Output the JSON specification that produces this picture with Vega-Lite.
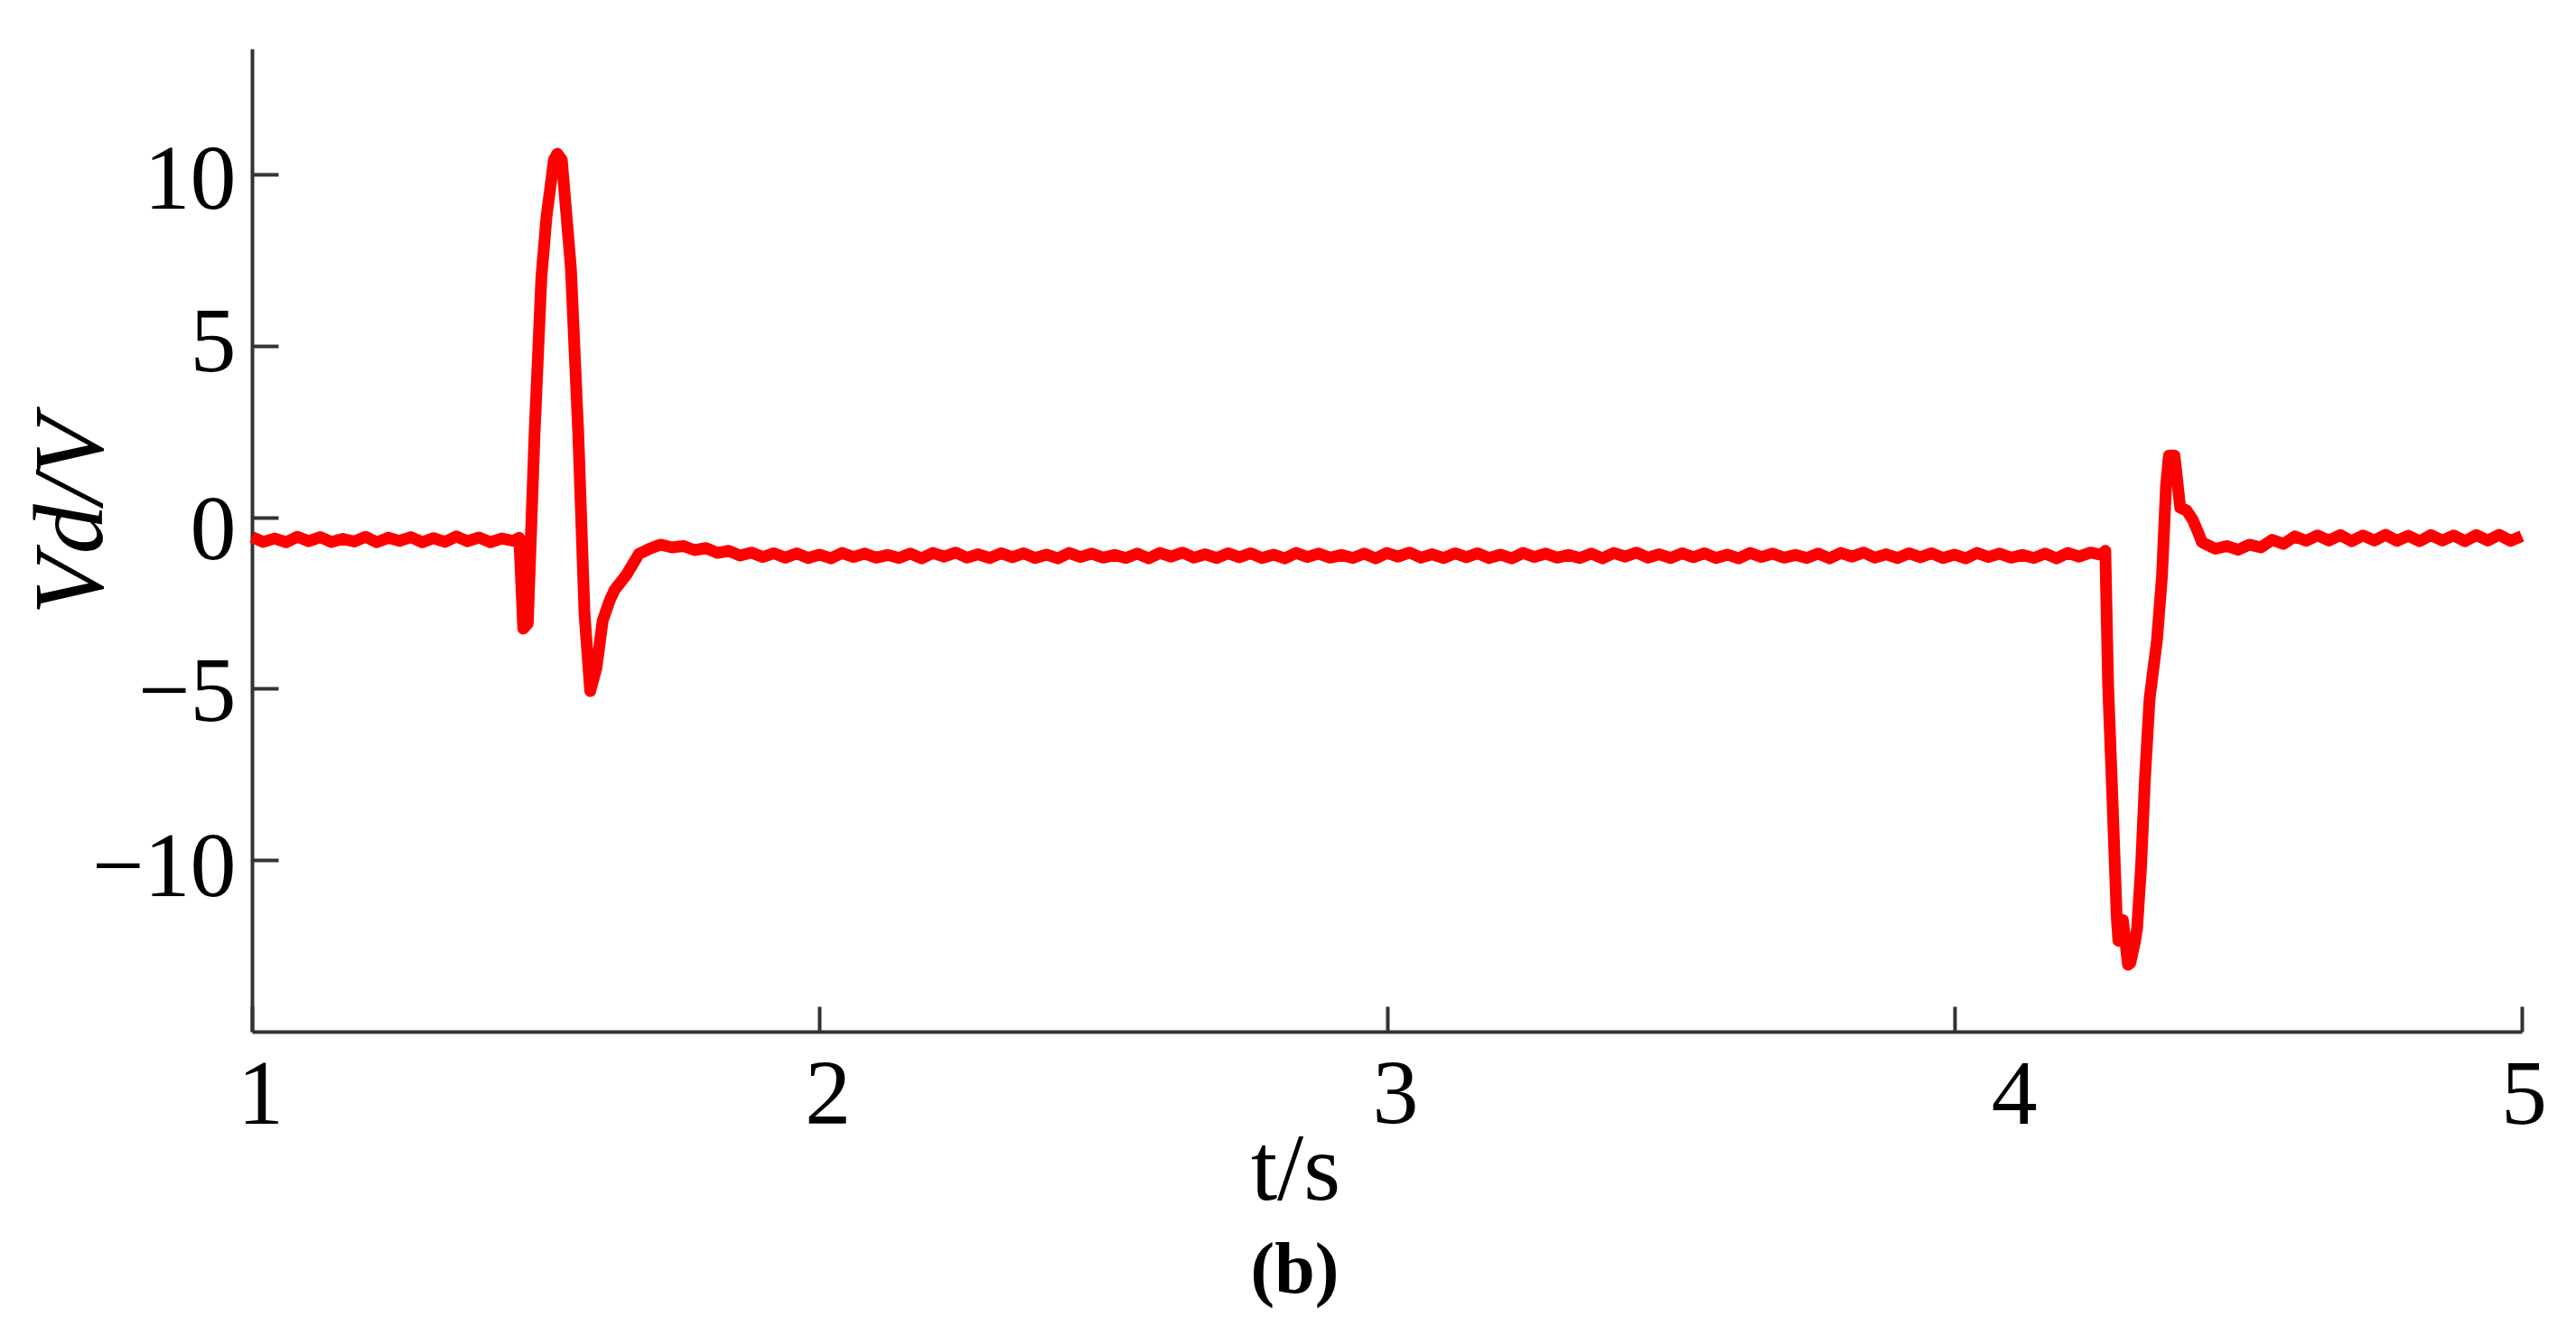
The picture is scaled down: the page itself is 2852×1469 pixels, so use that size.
{
  "$schema": "https://vega.github.io/schema/vega-lite/v6.json",
  "width": 2513,
  "height": 1088,
  "autosize": {"type": "none"},
  "padding": {"left": 279, "top": 54, "right": 60, "bottom": 327},
  "background": "white",
  "config": {
    "view": {"stroke": null},
    "axis": {
      "labelFont": "Liberation Serif",
      "labelFontSize": 102,
      "labelColor": "#000000",
      "titleFont": "Liberation Serif",
      "titleColor": "#000000",
      "titleFontWeight": "normal",
      "domainColor": "#333333",
      "domainWidth": 4,
      "tickColor": "#333333",
      "tickWidth": 4,
      "grid": false
    },
    "title": {"font": "Liberation Serif", "color": "#000000"}
  },
  "title": {
    "text": "(b)",
    "orient": "bottom",
    "anchor": "middle",
    "fontSize": 80,
    "fontWeight": "bold",
    "dx": -102,
    "offset": 20
  },
  "data": {
    "values": [
      {"t": 1.00, "v": -0.58}, {"t": 1.02, "v": -0.72}, {"t": 1.04, "v": -0.62}, {"t": 1.06, "v": -0.73},
      {"t": 1.08, "v": -0.57}, {"t": 1.10, "v": -0.70}, {"t": 1.12, "v": -0.58}, {"t": 1.14, "v": -0.72},
      {"t": 1.16, "v": -0.63}, {"t": 1.18, "v": -0.71}, {"t": 1.20, "v": -0.57}, {"t": 1.22, "v": -0.73},
      {"t": 1.24, "v": -0.60}, {"t": 1.26, "v": -0.69}, {"t": 1.28, "v": -0.58}, {"t": 1.30, "v": -0.73},
      {"t": 1.32, "v": -0.61}, {"t": 1.34, "v": -0.72}, {"t": 1.36, "v": -0.56}, {"t": 1.38, "v": -0.70},
      {"t": 1.40, "v": -0.59}, {"t": 1.42, "v": -0.73}, {"t": 1.44, "v": -0.62}, {"t": 1.46, "v": -0.69},
      {"t": 1.471, "v": -0.60},
      {"t": 1.478, "v": -3.25}, {"t": 1.486, "v": -3.10},
      {"t": 1.498, "v": 2.44}, {"t": 1.510, "v": 7.0}, {"t": 1.519, "v": 8.76}, {"t": 1.532, "v": 10.42},
      {"t": 1.538, "v": 10.6}, {"t": 1.546, "v": 10.42}, {"t": 1.562, "v": 7.26}, {"t": 1.575, "v": 2.44},
      {"t": 1.586, "v": -2.83}, {"t": 1.596, "v": -5.07},
      {"t": 1.607, "v": -4.4}, {"t": 1.618, "v": -3.02}, {"t": 1.631, "v": -2.4}, {"t": 1.639, "v": -2.12},
      {"t": 1.659, "v": -1.70}, {"t": 1.670, "v": -1.40}, {"t": 1.682, "v": -1.07}, {"t": 1.702, "v": -0.91},
      {"t": 1.72, "v": -0.80}, {"t": 1.74, "v": -0.88}, {"t": 1.76, "v": -0.84}, {"t": 1.78, "v": -0.96},
      {"t": 1.80, "v": -0.90}, {"t": 1.82, "v": -1.04}, {"t": 1.84, "v": -0.98}, {"t": 1.86, "v": -1.12},
      {"t": 1.88, "v": -1.03}, {"t": 1.90, "v": -1.16}, {"t": 1.92, "v": -1.05}, {"t": 1.94, "v": -1.18},
      {"t": 1.96, "v": -1.05}, {"t": 1.98, "v": -1.19}, {"t": 2.00, "v": -1.09}, {"t": 2.02, "v": -1.20},
      {"t": 2.04, "v": -1.04}, {"t": 2.06, "v": -1.16}, {"t": 2.08, "v": -1.06}, {"t": 2.10, "v": -1.18},
      {"t": 2.12, "v": -1.10}, {"t": 2.14, "v": -1.19}, {"t": 2.16, "v": -1.06}, {"t": 2.18, "v": -1.20},
      {"t": 2.20, "v": -1.04}, {"t": 2.22, "v": -1.15}, {"t": 2.24, "v": -1.03}, {"t": 2.26, "v": -1.18},
      {"t": 2.28, "v": -1.08}, {"t": 2.30, "v": -1.19}, {"t": 2.32, "v": -1.05}, {"t": 2.34, "v": -1.17},
      {"t": 2.36, "v": -1.05}, {"t": 2.38, "v": -1.19}, {"t": 2.40, "v": -1.09}, {"t": 2.42, "v": -1.20},
      {"t": 2.44, "v": -1.04}, {"t": 2.46, "v": -1.16}, {"t": 2.48, "v": -1.06}, {"t": 2.50, "v": -1.18},
      {"t": 2.52, "v": -1.10}, {"t": 2.54, "v": -1.19}, {"t": 2.56, "v": -1.06}, {"t": 2.58, "v": -1.20},
      {"t": 2.60, "v": -1.04}, {"t": 2.62, "v": -1.15}, {"t": 2.64, "v": -1.03}, {"t": 2.66, "v": -1.18},
      {"t": 2.68, "v": -1.08}, {"t": 2.70, "v": -1.19}, {"t": 2.72, "v": -1.05}, {"t": 2.74, "v": -1.17},
      {"t": 2.76, "v": -1.05}, {"t": 2.78, "v": -1.19}, {"t": 2.80, "v": -1.09}, {"t": 2.82, "v": -1.20},
      {"t": 2.84, "v": -1.04}, {"t": 2.86, "v": -1.16}, {"t": 2.88, "v": -1.06}, {"t": 2.90, "v": -1.18},
      {"t": 2.92, "v": -1.10}, {"t": 2.94, "v": -1.19}, {"t": 2.96, "v": -1.06}, {"t": 2.98, "v": -1.20},
      {"t": 3.00, "v": -1.04}, {"t": 3.02, "v": -1.15}, {"t": 3.04, "v": -1.03}, {"t": 3.06, "v": -1.18},
      {"t": 3.08, "v": -1.08}, {"t": 3.10, "v": -1.19}, {"t": 3.12, "v": -1.05}, {"t": 3.14, "v": -1.17},
      {"t": 3.16, "v": -1.05}, {"t": 3.18, "v": -1.19}, {"t": 3.20, "v": -1.09}, {"t": 3.22, "v": -1.20},
      {"t": 3.24, "v": -1.04}, {"t": 3.26, "v": -1.16}, {"t": 3.28, "v": -1.06}, {"t": 3.30, "v": -1.18},
      {"t": 3.32, "v": -1.10}, {"t": 3.34, "v": -1.19}, {"t": 3.36, "v": -1.06}, {"t": 3.38, "v": -1.20},
      {"t": 3.40, "v": -1.04}, {"t": 3.42, "v": -1.15}, {"t": 3.44, "v": -1.03}, {"t": 3.46, "v": -1.18},
      {"t": 3.48, "v": -1.08}, {"t": 3.50, "v": -1.19}, {"t": 3.52, "v": -1.05}, {"t": 3.54, "v": -1.17},
      {"t": 3.56, "v": -1.05}, {"t": 3.58, "v": -1.19}, {"t": 3.60, "v": -1.09}, {"t": 3.62, "v": -1.20},
      {"t": 3.64, "v": -1.04}, {"t": 3.66, "v": -1.16}, {"t": 3.68, "v": -1.06}, {"t": 3.70, "v": -1.18},
      {"t": 3.72, "v": -1.10}, {"t": 3.74, "v": -1.19}, {"t": 3.76, "v": -1.06}, {"t": 3.78, "v": -1.20},
      {"t": 3.80, "v": -1.04}, {"t": 3.82, "v": -1.15}, {"t": 3.84, "v": -1.03}, {"t": 3.86, "v": -1.18},
      {"t": 3.88, "v": -1.08}, {"t": 3.90, "v": -1.19}, {"t": 3.92, "v": -1.05}, {"t": 3.94, "v": -1.17},
      {"t": 3.96, "v": -1.05}, {"t": 3.98, "v": -1.19}, {"t": 4.00, "v": -1.09}, {"t": 4.02, "v": -1.20},
      {"t": 4.04, "v": -1.04}, {"t": 4.06, "v": -1.16}, {"t": 4.08, "v": -1.06}, {"t": 4.10, "v": -1.18},
      {"t": 4.12, "v": -1.10}, {"t": 4.14, "v": -1.19}, {"t": 4.16, "v": -1.06}, {"t": 4.18, "v": -1.20},
      {"t": 4.20, "v": -1.04}, {"t": 4.22, "v": -1.15}, {"t": 4.24, "v": -1.03}, {"t": 4.26, "v": -1.10},
      {"t": 4.266, "v": -0.98},
      {"t": 4.271, "v": -4.9}, {"t": 4.279, "v": -8.4}, {"t": 4.286, "v": -11.6}, {"t": 4.289, "v": -12.35},
      {"t": 4.297, "v": -11.75}, {"t": 4.306, "v": -13.05}, {"t": 4.310, "v": -13.0}, {"t": 4.318, "v": -12.4},
      {"t": 4.322, "v": -12.0}, {"t": 4.329, "v": -10.2}, {"t": 4.336, "v": -7.6}, {"t": 4.344, "v": -5.3},
      {"t": 4.357, "v": -3.6}, {"t": 4.366, "v": -1.7}, {"t": 4.373, "v": 0.9}, {"t": 4.378, "v": 1.8},
      {"t": 4.388, "v": 1.8}, {"t": 4.398, "v": 0.28}, {"t": 4.409, "v": 0.2}, {"t": 4.420, "v": -0.07},
      {"t": 4.430, "v": -0.46}, {"t": 4.436, "v": -0.72},
      {"t": 4.44, "v": -0.76}, {"t": 4.46, "v": -0.92}, {"t": 4.48, "v": -0.84}, {"t": 4.50, "v": -0.95},
      {"t": 4.52, "v": -0.80}, {"t": 4.54, "v": -0.88}, {"t": 4.56, "v": -0.66}, {"t": 4.58, "v": -0.78},
      {"t": 4.60, "v": -0.56}, {"t": 4.62, "v": -0.69}, {"t": 4.64, "v": -0.53}, {"t": 4.66, "v": -0.68},
      {"t": 4.68, "v": -0.52}, {"t": 4.70, "v": -0.70}, {"t": 4.72, "v": -0.53}, {"t": 4.74, "v": -0.68},
      {"t": 4.76, "v": -0.51}, {"t": 4.78, "v": -0.69}, {"t": 4.80, "v": -0.54}, {"t": 4.82, "v": -0.70},
      {"t": 4.84, "v": -0.52}, {"t": 4.86, "v": -0.68}, {"t": 4.88, "v": -0.53}, {"t": 4.90, "v": -0.70},
      {"t": 4.92, "v": -0.52}, {"t": 4.94, "v": -0.68}, {"t": 4.96, "v": -0.51}, {"t": 4.98, "v": -0.69},
      {"t": 5.00, "v": -0.55}
    ]
  },
  "mark": {"type": "line", "color": "#ff0000", "strokeWidth": 13, "strokeJoin": "round", "clip": false},
  "encoding": {
    "x": {
      "field": "t",
      "type": "quantitative",
      "scale": {"domain": [1, 5], "nice": false, "zero": false},
      "axis": {
        "values": [1, 2, 3, 4, 5],
        "format": "d",
        "tickSize": -28,
        "labelPadding": 129,
        "labelBaseline": "alphabetic",
        "labelOffset": {"condition": [{"test": "datum.value == 4", "value": 66}, {"test": "datum.value == 5", "value": 2}], "value": 9},
        "labelFlush": false,
        "labelOverlap": false,
        "title": "t/s",
        "titleFontSize": 105,
        "titleX": 1155,
        "titleY": 185,
        "titleBaseline": "alphabetic",
        "titleAnchor": null,
        "titleAlign": "center"
      }
    },
    "y": {
      "field": "v",
      "type": "quantitative",
      "scale": {"domain": [-15, 13.66], "nice": false, "zero": false},
      "axis": {
        "values": [-10, -5, 0, 5, 10],
        "tickSize": -29,
        "labelPadding": 47,
        "labelBaseline": "middle",
        "labelOffset": {"condition": [{"test": "datum.value == 10", "value": 7}, {"test": "datum.value == 0", "value": 15}, {"test": "datum.value == 5", "value": -3}, {"test": "datum.value == -5", "value": 4}], "value": 8},
        "labelFlush": false,
        "labelOverlap": false,
        "title": "Vd/V",
        "titleFontSize": 110,
        "titleFontStyle": "italic",
        "titleX": -167,
        "titleY": 516,
        "titleAngle": -90,
        "titleBaseline": "alphabetic",
        "titleAlign": "center"
      }
    }
  }
}
